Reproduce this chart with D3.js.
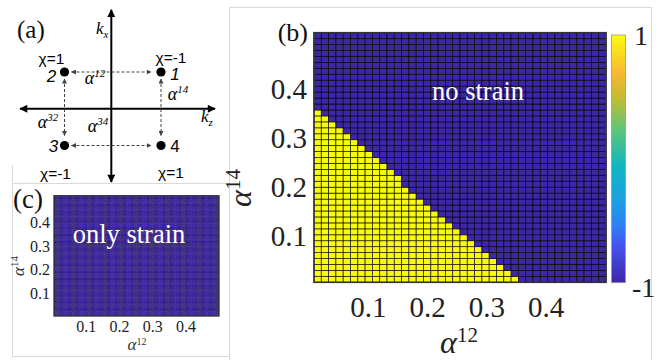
<!DOCTYPE html>
<html>
<head>
<meta charset="utf-8">
<script src="https://cdn.jsdelivr.net/npm/d3@7"></script>
<style>
body { margin: 0; background: #fff; }
svg { display: block; }
.serif { font-family: "Liberation Serif", "Times New Roman", serif; }
.sans { font-family: "Liberation Sans", Arial, sans-serif; }
</style>
</head>
<body>
<svg id="fig" width="663" height="360"></svg>
<script>
// ---- data ----

// panel (b): cell centres of the alpha^12 / alpha^14 grid
const alpha12Grid = [0.015, 0.027, 0.040, 0.052, 0.064, 0.077, 0.089, 0.101, 0.114, 0.126,
    0.138, 0.150, 0.163, 0.175, 0.187, 0.200, 0.212, 0.224, 0.237, 0.249,
    0.261, 0.274, 0.286, 0.298, 0.310, 0.323, 0.335, 0.347, 0.360, 0.372,
    0.384, 0.397, 0.409, 0.421, 0.434, 0.446, 0.458, 0.470, 0.483, 0.495];
const alpha14Grid = [0.013, 0.025, 0.037, 0.049, 0.061, 0.073, 0.085, 0.097, 0.110, 0.122,
    0.134, 0.146, 0.158, 0.170, 0.182, 0.194, 0.206, 0.218, 0.231, 0.243,
    0.255, 0.267, 0.279, 0.291, 0.303, 0.315, 0.327, 0.339, 0.352, 0.364,
    0.376, 0.388, 0.400, 0.412, 0.424, 0.436, 0.448, 0.460, 0.473, 0.485,
    0.497, 0.509];
// cells with value +1 counted from the left, one entry per alpha^14 row (bottom first); the rest are -1
const valuePlusOnePerRow = [28, 27, 26, 25, 24, 23, 22, 21, 20, 19,
    18, 17, 16, 15, 14, 13, 12, 12, 11, 10,
    9, 8, 7, 6, 5, 4, 3, 2, 1, 0,
    0, 0, 0, 0, 0, 0, 0, 0, 0, 0,
    0, 0];

// panel (c): whole map is -1
const onlyStrainCols = 72;
const onlyStrainRows = 52;
const onlyStrainValue = -1;

const tickValues = [0.1, 0.2, 0.3, 0.4];
const colorbarLabels = [{ v: 1, text: '1' }, { v: -1, text: '-1' }];

// parula-like colour map (value -> colour)
const cmapValues = [-1, -0.71, -0.55, -0.33, -0.06, 0.23, 0.50, 0.69, 1];
const cmapColors = ['#3e26a8', '#4552ee', '#2f7ef6', '#1ca1e3', '#0fb7c1', '#5cc67a', '#c6bc2f', '#f9b733', '#f9fb0e'];

// panel (a): Weyl nodes in the (kz, kx) plane
const weylNodes = [
    { id: '1', kz: 1, kx: 1, chi: '\u03c7=-1' },
    { id: '2', kz: -1, kx: 1, chi: '\u03c7=1' },
    { id: '3', kz: -1, kx: -1, chi: '\u03c7=-1' },
    { id: '4', kz: 1, kx: -1, chi: '\u03c7=1' }
];
const couplings = [
    { from: '2', to: '1', sup: '12' },
    { from: '1', to: '4', sup: '14' },
    { from: '2', to: '3', sup: '32' },
    { from: '3', to: '4', sup: '34' }
];

// ---- drawing ----
const svg = d3.select('#fig');
const color = d3.scaleLinear().domain(cmapValues).range(cmapColors).interpolate(d3.interpolateRgb);

// light panel frames
const frame = svg.append('g').attr('stroke', '#d9d9d9').attr('stroke-width', 1).attr('fill', 'none');
frame.append('path').attr('d', 'M229.5,360 V7.5 H651.5 V360');
frame.append('path').attr('d', 'M12.5,165 V356.5 H229.5');
frame.append('path').attr('d', 'M12.5,183.5 H229.5');

function addSup(text, base, sup, supSize, rise) {
    text.append('tspan').text(base);
    text.append('tspan').attr('font-size', supSize).attr('dy', -rise).text(sup);
}

// heat map panel helper
function heatPanel(opt) {
    const g = svg.append('g');
    const x = d3.scaleLinear().domain(opt.xDomain).range(opt.xRange);
    const y = d3.scaleLinear().domain(opt.yDomain).range(opt.yRange);
    const col = d3.scaleBand().domain(opt.cols).range(opt.xRange);
    const row = d3.scaleBand().domain(opt.rows).range(opt.yRange);

    g.selectAll('g.row')
        .data(opt.rows)
        .join('g')
        .attr('class', 'row')
        .each(function (r, ri) {
            d3.select(this).selectAll('rect')
                .data(opt.cols)
                .join('rect')
                .attr('x', c => col(c))
                .attr('y', row(r))
                .attr('width', col.bandwidth())
                .attr('height', row.bandwidth())
                .attr('fill', (c, ci) => color(opt.value(ri, ci)))
                .attr('stroke', opt.gridColor)
                .attr('stroke-width', opt.gridWidth);
        });

    // box
    g.append('rect')
        .attr('x', opt.xRange[0]).attr('y', opt.yRange[1])
        .attr('width', opt.xRange[1] - opt.xRange[0])
        .attr('height', opt.yRange[0] - opt.yRange[1])
        .attr('fill', 'none').attr('stroke', '#333').attr('stroke-width', opt.boxWidth);

    const xAxis = g.append('g')
        .attr('transform', `translate(0,${opt.yRange[0]})`)
        .call(d3.axisBottom(x).tickValues(tickValues).tickSize(0).tickPadding(opt.xPad).tickFormat(d3.format('.1f')));
    const yAxis = g.append('g')
        .attr('transform', `translate(${opt.xRange[0]},0)`)
        .call(d3.axisLeft(y).tickValues(tickValues).tickSize(0).tickPadding(opt.yPad).tickFormat(d3.format('.1f')));
    [xAxis, yAxis].forEach(a => {
        a.select('.domain').remove();
        a.selectAll('text')
            .attr('class', 'serif')
            .attr('font-size', opt.tickSize)
            .attr('fill', '#222');
    });
    return { g, x, y };
}

// panel (b)
const pb = heatPanel({
    cols: alpha12Grid, rows: alpha14Grid,
    xDomain: [0.009, 0.502], yDomain: [0.007, 0.515],
    xRange: [314, 606], yRange: [282.3, 32.7],
    value: (ri, ci) => ci < valuePlusOnePerRow[ri] ? 1 : -1,
    gridColor: 'rgba(0,0,0,0.78)', gridWidth: 0.8, boxWidth: 1.6,
    xPad: 14, yPad: 7, tickSize: 29
});

pb.g.append('text').attr('class', 'serif')
    .attr('x', 308).attr('y', 41).attr('text-anchor', 'end')
    .attr('font-size', 26).attr('fill', '#111').text('(b)');
pb.g.append('text').attr('class', 'serif')
    .attr('x', 478).attr('y', 100).attr('text-anchor', 'middle')
    .attr('font-size', 26.5).attr('fill', '#fff').text('no strain');

const bxl = pb.g.append('text').attr('class', 'serif')
    .attr('x', 459).attr('y', 353).attr('text-anchor', 'middle')
    .attr('font-size', 32).attr('fill', '#222');
addSup(bxl, '\u03b1', '12', 21, 11);
bxl.select('tspan').attr('font-style', 'italic');

const byl = pb.g.append('text').attr('class', 'serif')
    .attr('transform', 'translate(251,188) rotate(-90)').attr('text-anchor', 'middle')
    .attr('font-size', 32).attr('fill', '#222');
addSup(byl, '\u03b1', '14', 21, 11);
byl.select('tspan').attr('font-style', 'italic');

// colour bar
const cb = { x: 611.5, w: 14, top: 35, bottom: 282.7 };
const cbScale = d3.scaleLinear().domain([-1, 1]).range([cb.bottom, cb.top]);
const grad = svg.append('defs').append('linearGradient')
    .attr('id', 'cbGrad').attr('x1', 0).attr('y1', 1).attr('x2', 0).attr('y2', 0);
grad.selectAll('stop')
    .data(cmapValues)
    .join('stop')
    .attr('offset', v => (v + 1) / 2)
    .attr('stop-color', v => color(v));
svg.append('rect')
    .attr('x', cb.x).attr('y', cbScale(1))
    .attr('width', cb.w).attr('height', cbScale(-1) - cbScale(1))
    .attr('fill', 'url(#cbGrad)').attr('stroke', '#999').attr('stroke-width', 0.8);
svg.selectAll('text.cbl')
    .data(colorbarLabels)
    .join('text')
    .attr('class', 'cbl serif')
    .attr('x', d => d.v > 0 ? 634 : 632)
    .attr('y', d => cbScale(d.v) + (d.v > 0 ? 10 : 14))
    .attr('font-size', 28).attr('fill', '#222')
    .text(d => d.text);

// panel (c)
const pc = heatPanel({
    cols: d3.range(onlyStrainCols), rows: d3.range(onlyStrainRows),
    xDomain: [0.004, 0.501], yDomain: [0.003, 0.515],
    xRange: [54, 219], yRange: [316, 195.7],
    value: () => onlyStrainValue,
    gridColor: 'rgba(20,10,60,0.55)', gridWidth: 0.4, boxWidth: 1.2,
    xPad: 5, yPad: 4, tickSize: 16
});
pc.g.append('text').attr('class', 'serif')
    .attr('x', 13).attr('y', 208)
    .attr('font-size', 27).attr('fill', '#111').text('(c)');
pc.g.append('text').attr('class', 'serif')
    .attr('x', 129).attr('y', 243).attr('text-anchor', 'middle')
    .attr('font-size', 26.5).attr('fill', '#fff').text('only strain');
const cxl = pc.g.append('text').attr('class', 'serif')
    .attr('x', 137).attr('y', 350).attr('text-anchor', 'middle')
    .attr('font-size', 17).attr('fill', '#333');
addSup(cxl, '\u03b1', '12', 10, 5);
cxl.select('tspan').attr('font-style', 'italic');
const cyl = pc.g.append('text').attr('class', 'serif')
    .attr('transform', 'translate(24,266) rotate(-90)').attr('text-anchor', 'middle')
    .attr('font-size', 17).attr('fill', '#333');
addSup(cyl, '\u03b1', '14', 11, 6);
cyl.select('tspan').attr('font-style', 'italic');

// panel (a): node diagram
const pa = svg.append('g');
const kz = d3.scaleLinear().domain([-1, 1]).range([64.5, 161]);
const kx = d3.scaleLinear().domain([-1, 1]).range([145.5, 72]);
const defs = svg.select('defs');
defs.append('marker').attr('id', 'arrBlack')
    .attr('viewBox', '0 0 10 10').attr('refX', 9).attr('refY', 5)
    .attr('markerUnits', 'userSpaceOnUse').attr('markerWidth', 9).attr('markerHeight', 8)
    .attr('orient', 'auto-start-reverse')
    .append('path').attr('d', 'M0,0 L10,5 L0,10 z').attr('fill', '#000');
defs.append('marker').attr('id', 'arrGray')
    .attr('viewBox', '0 0 10 10').attr('refX', 9).attr('refY', 5)
    .attr('markerUnits', 'userSpaceOnUse').attr('markerWidth', 5).attr('markerHeight', 5)
    .attr('orient', 'auto-start-reverse')
    .append('path').attr('d', 'M0,0 L10,5 L0,10 z').attr('fill', '#444');

pa.append('line')
    .attr('x1', kz(-1.92)).attr('x2', kz(2.12)).attr('y1', kx(0)).attr('y2', kx(0))
    .attr('stroke', '#000').attr('stroke-width', 2)
    .attr('marker-start', 'url(#arrBlack)').attr('marker-end', 'url(#arrBlack)');
pa.append('line')
    .attr('x1', kz(-0.03)).attr('x2', kz(-0.03)).attr('y1', kx(2.69)).attr('y2', kx(-1.99))
    .attr('stroke', '#000').attr('stroke-width', 2)
    .attr('marker-start', 'url(#arrBlack)').attr('marker-end', 'url(#arrBlack)');

const kxLab = pa.append('text').attr('class', 'serif')
    .attr('x', 96).attr('y', 34).attr('font-size', 17).attr('font-style', 'italic');
kxLab.append('tspan').text('k');
kxLab.append('tspan').attr('font-size', 11).attr('dy', 4).text('x');
const kzLab = pa.append('text').attr('class', 'serif')
    .attr('x', 201).attr('y', 122).attr('font-size', 17).attr('font-style', 'italic');
kzLab.append('tspan').text('k');
kzLab.append('tspan').attr('font-size', 11).attr('dy', 4).text('z');

pa.append('text').attr('class', 'serif')
    .attr('x', 17).attr('y', 38).attr('font-size', 25).attr('fill', '#111').text('(a)');

const nodeById = new Map(weylNodes.map(d => [d.id, d]));
const gap = 7;
pa.selectAll('line.link')
    .data(couplings)
    .join('line')
    .attr('class', 'link')
    .each(function (d) {
        const a = nodeById.get(d.from), b = nodeById.get(d.to);
        const x1 = kz(a.kz), y1 = kx(a.kx), x2 = kz(b.kz), y2 = kx(b.kx);
        const len = Math.hypot(x2 - x1, y2 - y1);
        const ux = (x2 - x1) / len, uy = (y2 - y1) / len;
        d3.select(this)
            .attr('x1', x1 + ux * gap).attr('y1', y1 + uy * gap)
            .attr('x2', x2 - ux * (gap + 3)).attr('y2', y2 - uy * (gap + 3));
    })
    .attr('stroke', '#444').attr('stroke-width', 1)
    .attr('stroke-dasharray', '3,2')
    .attr('marker-start', 'url(#arrGray)').attr('marker-end', 'url(#arrGray)');

pa.selectAll('circle.node')
    .data(weylNodes)
    .join('circle')
    .attr('class', 'node')
    .attr('cx', d => kz(d.kz)).attr('cy', d => kx(d.kx))
    .attr('r', 4.6).attr('fill', '#000');

// label offsets (layout only)
const nodeLabelPos = { '1': [14, 8], '2': [-13, 10], '3': [-11, 6.5], '4': [14, 6.5] };
const chiLabelPos = { '1': [10, -9], '2': [-13, -8], '3': [-9, 33], '4': [10, 32] };
pa.selectAll('text.nid')
    .data(weylNodes)
    .join('text')
    .attr('class', 'nid sans')
    .attr('x', d => kz(d.kz) + nodeLabelPos[d.id][0])
    .attr('y', d => kx(d.kx) + nodeLabelPos[d.id][1])
    .attr('text-anchor', 'middle').attr('font-size', 17)
    .attr('font-style', d => d.id === '4' ? 'normal' : 'italic')
    .text(d => d.id);
pa.selectAll('text.chi')
    .data(weylNodes)
    .join('text')
    .attr('class', 'chi sans')
    .attr('x', d => kz(d.kz) + chiLabelPos[d.id][0])
    .attr('y', d => kx(d.kx) + chiLabelPos[d.id][1])
    .attr('text-anchor', 'middle').attr('font-size', 15.5)
    .text(d => d.chi);

const couplingLabelPos = { '12': [95, 84], '14': [178, 100], '32': [48, 128], '34': [98, 132] };
pa.selectAll('text.cpl')
    .data(couplings)
    .join('text')
    .attr('class', 'cpl serif')
    .attr('x', d => couplingLabelPos[d.sup][0])
    .attr('y', d => couplingLabelPos[d.sup][1])
    .attr('text-anchor', 'middle').attr('font-size', 18).attr('font-style', 'italic')
    .each(function (d) { addSup(d3.select(this), '\u03b1', d.sup, 11, 7); });
</script>
</body>
</html>
